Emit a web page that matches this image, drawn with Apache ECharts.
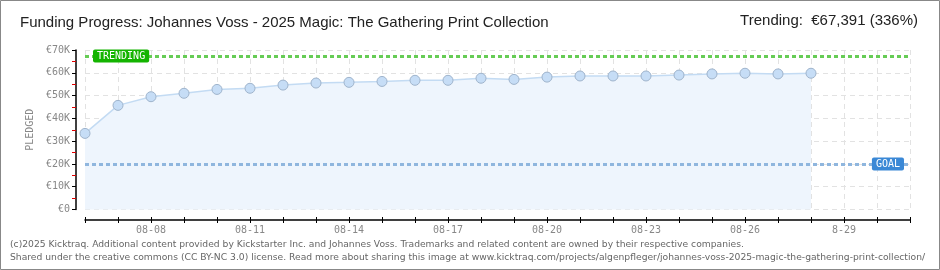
<!DOCTYPE html>
<html>
<head>
<meta charset="utf-8">
<script src="https://cdn.jsdelivr.net/npm/echarts@6/dist/echarts.min.js"></script>
<style>
html,body{margin:0;padding:0;background:#fff;}
#c{width:940px;height:270px;}
</style>
</head>
<body>
<div id="c"></div>
<script>
const categories = ['08-06','08-07','08-08','08-09','08-10','08-11','08-12','08-13','08-14','08-15','08-16','08-17','08-18','08-19','08-20','08-21','08-22','08-23','08-24','08-25','08-26','08-27','08-28','08-29','08-30','08-31'];
const tickLabels = ['','','08-08','','','08-11','','','08-14','','','08-17','','','08-20','','','08-23','','','08-26','','','8-29','',''];
const pledged = [33400,45700,49500,51000,52700,53200,54600,55500,55800,56200,56700,56700,57600,57100,58100,58600,58600,58600,59000,59500,59800,59500,59800];
const goal = 20000;
const trending = 67391;
const titleText = 'Funding Progress: Johannes Voss - 2025 Magic: The Gathering Print Collection';
const trendingText = 'Trending:  €67,391 (336%)';
const footer1 = '(c)2025 Kicktraq. Additional content provided by Kickstarter Inc. and Johannes Voss. Trademarks and related content are owned by their respective companies.';
const footer2 = 'Shared under the creative commons (CC BY-NC 3.0) license. Read more about sharing this image at www.kicktraq.com/projects/algenpfleger/johannes-voss-2025-magic-the-gathering-print-collection/';

const chart = echarts.init(document.getElementById('c'), null, {renderer:'canvas'});
const mono = 'DejaVu Sans Mono';
chart.setOption({
  animation:false,
  backgroundColor:'#fff',
  grid:{left:85,right:30,top:50,bottom:60.5,containLabel:false},
  graphic:[
    {type:'rect',shape:{x:0.5,y:0.5,width:939,height:269},style:{fill:null,stroke:'#888',lineWidth:1},z:100},
    {type:'text',left:20,top:15,style:{text:titleText,font:'15px "Liberation Sans", sans-serif',fill:'#222'}},
    {type:'text',right:22,top:13,style:{text:trendingText,font:'15px "Liberation Sans", sans-serif',fill:'#222'}},
    {type:'text',left:10,top:240,style:{text:footer1,font:'9.2px "DejaVu Sans", sans-serif',fill:'#666'}},
    {type:'text',left:10,top:253,style:{text:footer2,font:'9.2px "DejaVu Sans", sans-serif',fill:'#666'}}
  ],
  xAxis:[{
    type:'category',data:categories,boundaryGap:false,position:'bottom',offset:10.5,
    axisLine:{onZero:false,lineStyle:{color:'#000',width:1.5}},
    axisTick:{interval:0,length:3,lineStyle:{color:'#000'}},
    axisLabel:{interval:0,formatter:(v,i)=>tickLabels[i],color:'#888',fontFamily:mono,fontSize:10,margin:5},
    splitLine:{show:true,interval:0,lineStyle:{color:'#e2e2e2',type:[5,4]}}
  },{
    type:'category',data:categories,boundaryGap:false,position:'bottom',offset:10.5,
    axisLine:{show:false,onZero:false},
    axisTick:{interval:0,length:3,inside:true,lineStyle:{color:'#000'}},
    axisLabel:{show:false},splitLine:{show:false}
  }],
  yAxis:{
    type:'value',min:0,max:70000,interval:10000,offset:9,
    name:'PLEDGED',nameLocation:'middle',nameRotate:90,nameGap:39,
    nameTextStyle:{color:'#888',fontFamily:mono,fontSize:10},
    axisLine:{show:true,lineStyle:{color:'#000',width:1.5}},
    axisTick:{show:true,length:4,lineStyle:{color:'#000'}},
    minorTick:{show:true,splitNumber:2,length:4,lineStyle:{color:'#e00000'}},
    axisLabel:{formatter:v=>v===0?'€0':'€'+(v/1000)+'K',color:'#888',fontFamily:mono,fontSize:10,margin:6},
    splitLine:{show:true,lineStyle:{color:'#e2e2e2',type:[5,4]}}
  },
  series:[{
    type:'line',data:pledged,
    symbol:'circle',symbolSize:10,
    itemStyle:{color:'#c6ddf6',borderColor:'#9fb4cc',borderWidth:1},
    lineStyle:{color:'#c3dbf3',width:1.5},
    areaStyle:{color:'#eef5fd',opacity:1},
    z:3,
    markLine:{
      silent:true,symbol:'none',
      data:[
        {yAxis:trending,lineStyle:{color:'#66cc55',width:3,type:[4,3]},
         label:{formatter:'TRENDING',position:'insideStart',distance:8,color:'#fff',backgroundColor:'#14b400',fontFamily:mono,fontSize:10,padding:[2,4,1,4],borderRadius:2}},
        {yAxis:goal,lineStyle:{color:'#8fb6de',width:3,type:[4,3]},
         label:{formatter:'GOAL',position:'insideEnd',distance:6,color:'#fff',backgroundColor:'#3a88d6',fontFamily:mono,fontSize:10,padding:[2,4,1,4],borderRadius:2}}
      ]
    }
  }]
});
</script>
</body>
</html>
